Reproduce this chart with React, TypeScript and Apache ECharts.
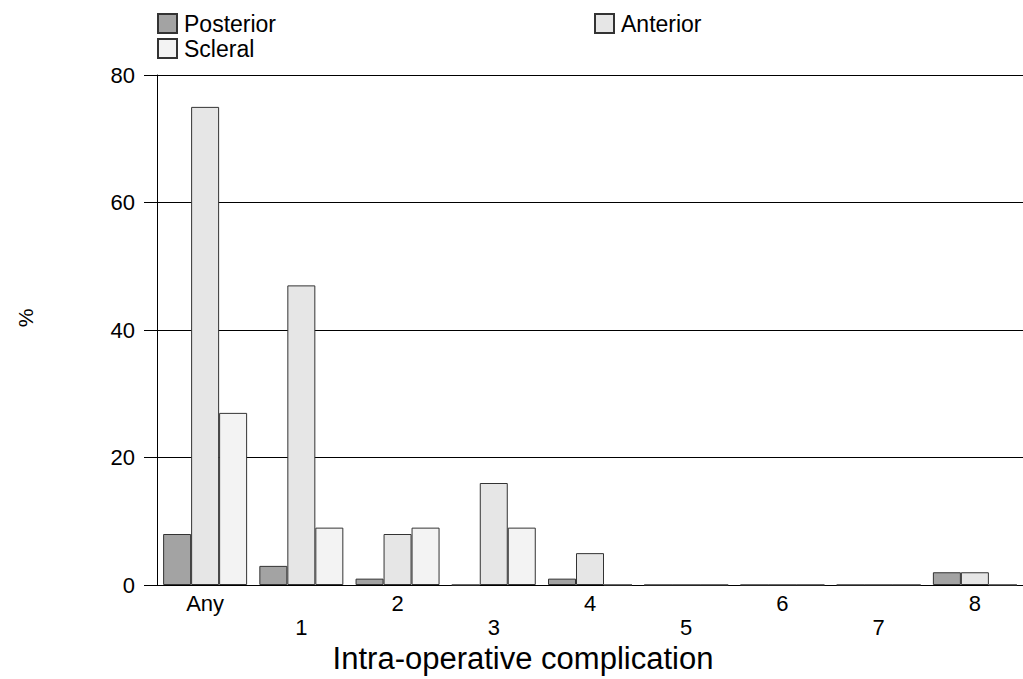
import React, { useEffect, useRef } from "react";
import * as echarts from "echarts";

const categories = ["Any", "1", "2", "3", "4", "5", "6", "7", "8"];
const posterior = [8, 3, 1, 0, 1, 0, 0, 0, 2];
const anterior = [75, 47, 8, 16, 5, 0, 0, 0, 2];
const scleral = [27, 9, 9, 9, 0, 0, 0, 0, 0];
const yTicks = [0, 20, 40, 60, 80];

const FONT = "'Liberation Sans', Arial, sans-serif";

export default function App() {
  const ref = useRef<HTMLDivElement>(null);
  useEffect(() => {
    if (!ref.current) return;
    const chart = echarts.init(ref.current, undefined, { renderer: "svg" });
    const barStyle = (color: string) => ({
      color,
      borderColor: "#333",
      borderWidth: 1,
    });
    const legendText = {
      fontSize: 23,
      lineHeight: 23,
      color: "#000",
      fontFamily: FONT,
      padding: [0, 0, 0, 2],
    };
    chart.setOption({
      animation: false,
      backgroundColor: "#fff",
      textStyle: { fontFamily: FONT },
      legend: [
        {
          data: ["Posterior", "Scleral"],
          orient: "vertical",
          left: 157,
          top: 12,
          icon: "rect",
          itemWidth: 19,
          itemHeight: 19,
          itemGap: 2,
          padding: 0,
          textStyle: legendText,
          selectedMode: false,
        },
        {
          data: ["Anterior"],
          left: 594,
          top: 12,
          icon: "rect",
          itemWidth: 19,
          itemHeight: 19,
          padding: 0,
          textStyle: legendText,
          selectedMode: false,
        },
      ],
      grid: { left: 157, top: 75, width: 873, height: 510 },
      xAxis: {
        type: "category",
        data: categories,
        axisLine: { lineStyle: { color: "#000", width: 1 } },
        axisTick: { show: false },
        axisLabel: {
          interval: 0,
          margin: 6,
          fontSize: 22,
          color: "#000",
          fontFamily: FONT,
          lineHeight: 24,
          formatter: (v: string, i: number) => (i % 2 === 1 ? "\n" + v : v),
        },
      },
      yAxis: {
        type: "value",
        min: yTicks[0],
        max: yTicks[yTicks.length - 1],
        interval: 20,
        axisLine: { show: true, lineStyle: { color: "#000", width: 1 } },
        axisTick: { show: true, length: 13, lineStyle: { color: "#000" } },
        axisLabel: { margin: 22, fontSize: 22, color: "#000", fontFamily: FONT },
        splitLine: { show: true, lineStyle: { color: "#000", width: 1 } },
      },
      graphic: [
        {
          type: "text",
          x: 25,
          y: 318,
          rotation: Math.PI / 2,
          style: {
            text: "%",
            fontSize: 21,
            fill: "#000",
            fontFamily: FONT,
            textAlign: "center",
            textVerticalAlign: "middle",
          },
        },
        {
          type: "text",
          x: 523,
          y: 658,
          style: {
            text: "Intra-operative complication",
            fontSize: 31,
            fill: "#000",
            fontFamily: FONT,
            textAlign: "center",
            textVerticalAlign: "middle",
          },
        },
      ],
      series: [
        {
          name: "Posterior",
          type: "bar",
          data: posterior,
          barWidth: 28,
          barGap: "0%",
          itemStyle: barStyle("#a3a3a3"),
        },
        {
          name: "Anterior",
          type: "bar",
          data: anterior,
          barWidth: 28,
          barGap: "0%",
          itemStyle: barStyle("#e6e6e6"),
        },
        {
          name: "Scleral",
          type: "bar",
          data: scleral,
          barWidth: 28,
          barGap: "0%",
          itemStyle: barStyle("#f3f3f3"),
        },
      ],
    });
    return () => chart.dispose();
  }, []);
  return (
    <div
      ref={ref}
      style={{ position: "fixed", left: 0, top: 0, width: 1023, height: 679 }}
    />
  );
}
